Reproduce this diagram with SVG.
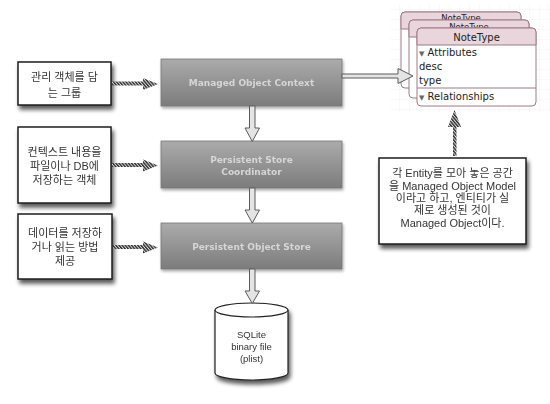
<svg xmlns="http://www.w3.org/2000/svg" width="550" height="404" viewBox="0 0 550 404">
<defs>
<style>
.note{fill:#ffffff;stroke:#1e1e1e;stroke-width:1.5}
.gbox{fill:url(#gg);stroke:#777;stroke-width:0.8}
.gt{font-family:"DejaVu Sans",sans-serif;font-weight:bold;font-size:9px;fill:#d6d6d6;text-anchor:middle}
.kt{font-family:"Liberation Sans","Noto Sans CJK KR",sans-serif;font-size:11px;fill:#333;text-anchor:middle}
.hollow{fill:#e4e4e4;stroke:#5a5a5a;stroke-width:1}
.hatch{fill:url(#hp);stroke:none}
.ent{fill:#ffffff;stroke:#a07886;stroke-width:1}
.enth{fill:#e9d6dd;stroke:#a07886;stroke-width:1}
.et{font-family:"DejaVu Sans",sans-serif;font-size:10px;fill:#222}
.bt{font-family:"DejaVu Sans",sans-serif;font-size:8.5px;fill:#222;text-anchor:middle}
.cyl{fill:#fff;stroke:#222;stroke-width:1.2}
.ct{font-family:"Liberation Sans",sans-serif;font-size:9.5px;fill:#333;text-anchor:middle}
</style>
<linearGradient id="gg" x1="0" y1="0" x2="0" y2="1">
<stop offset="0" stop-color="#ababab"/>
<stop offset="1" stop-color="#7c7c7c"/>
</linearGradient>
<pattern id="hp" width="2.4" height="2.4" patternUnits="userSpaceOnUse" patternTransform="rotate(-40)">
<rect width="2.4" height="2.4" fill="#e0e0e0"/>
<rect width="1.4" height="2.4" fill="#2a2a2a"/>
</pattern>
<pattern id="grid" width="10" height="10" patternUnits="userSpaceOnUse">
<path d="M10 0V10M0 10H10" fill="none" stroke="#ececec" stroke-width="0.6"/>
</pattern>
<filter id="sh" x="-20%" y="-20%" width="150%" height="160%">
<feGaussianBlur in="SourceAlpha" stdDeviation="2"/>
<feOffset dx="2" dy="4" result="b"/>
<feComponentTransfer><feFuncA type="linear" slope="0.65"/></feComponentTransfer>
<feMerge><feMergeNode/><feMergeNode in="SourceGraphic"/></feMerge>
</filter>
<filter id="sh2" x="-10%" y="-20%" width="130%" height="160%">
<feGaussianBlur in="SourceAlpha" stdDeviation="1.5"/>
<feOffset dx="1" dy="2" result="b"/>
<feComponentTransfer><feFuncA type="linear" slope="0.35"/></feComponentTransfer>
<feMerge><feMergeNode/><feMergeNode in="SourceGraphic"/></feMerge>
</filter>
</defs>
<rect width="550" height="404" fill="#ffffff"/>

<rect x="390" y="4" width="160" height="108" fill="url(#grid)"/>

<g id="note1" filter="url(#sh)">
<rect class="note" x="18" y="62" width="93" height="43"/>
<text class="kt" x="64.5" y="81">관리 객체를 담</text>
<text class="kt" x="64.5" y="97">는 그룹</text>
</g>
<g id="note2" filter="url(#sh)">
<rect class="note" x="18" y="127" width="93" height="76"/>
<text class="kt" x="64.5" y="156">컨텍스트 내용을</text>
<text class="kt" x="64.5" y="169.5">파일이나 DB에</text>
<text class="kt" x="64.5" y="184">저장하는 객체</text>
</g>
<g id="note3" filter="url(#sh)">
<rect class="note" x="18" y="214" width="94" height="65"/>
<text class="kt" x="65" y="237">데이터를 저장하</text>
<text class="kt" x="65" y="251">거나 읽는 방법</text>
<text class="kt" x="65" y="264.5">제공</text>
</g>

<g id="moc" filter="url(#sh2)">
<rect class="gbox" x="161" y="59" width="181" height="47"/>
<text class="gt" x="251.5" y="86">Managed Object Context</text>
</g>
<g id="psc" filter="url(#sh2)">
<rect class="gbox" x="161" y="141" width="181" height="47"/>
<text class="gt" x="251.5" y="163">Persistent Store</text>
<text class="gt" x="251.5" y="174.5">Coordinator</text>
</g>
<g id="pos" filter="url(#sh2)">
<rect class="gbox" x="161" y="223" width="181" height="46"/>
<text class="gt" x="251.5" y="250">Persistent Object Store</text>
</g>

<g id="sqlite" filter="url(#sh)">
<path class="cyl" d="M215 310 V373 A36.5 7 0 0 0 288 373 V310"/>
<ellipse class="cyl" cx="251.5" cy="310" rx="36.5" ry="7"/>
<text class="ct" x="251.5" y="338">SQLite</text>
<text class="ct" x="251.5" y="350">binary file</text>
<text class="ct" x="251.5" y="362">(plist)</text>
</g>

<g id="entity">
<rect class="ent" x="401" y="12" width="120" height="76" rx="4"/>
<path class="enth" d="M401 29 V16 A4 4 0 0 1 405 12 H517 A4 4 0 0 1 521 16 V29 Z"/>
<text class="bt" x="461" y="20.5">NoteType</text>
<rect class="ent" x="409" y="20" width="120" height="78" rx="4"/>
<path class="enth" d="M409 37 V24 A4 4 0 0 1 413 20 H525 A4 4 0 0 1 529 24 V37 Z"/>
<text class="bt" x="469" y="29.5">NoteType</text>
<rect class="ent" x="417" y="28" width="119" height="78" rx="4"/>
<path class="enth" d="M417 45 V32 A4 4 0 0 1 421 28 H532 A4 4 0 0 1 536 32 V45 Z"/>
<text class="et" x="476.5" y="40.5" text-anchor="middle">NoteType</text>
<text class="et" x="419" y="55.5"><tspan font-size="7" fill="#666">▼</tspan> Attributes</text>
<text class="et" x="419" y="70">desc</text>
<text class="et" x="419" y="84">type</text>
<line x1="417" y1="88" x2="536" y2="88" stroke="#a07886" stroke-width="1"/>
<text class="et" x="419" y="100"><tspan font-size="7" fill="#666">▼</tspan> Relationships</text>
</g>

<g id="callout" filter="url(#sh)">
<rect class="note" x="379" y="158" width="147" height="86"/>
<text class="kt" x="452.5" y="177">각 Entity를 모아 놓은 공간</text>
<text class="kt" x="452.5" y="189.5">을 Managed Object Model</text>
<text class="kt" x="452.5" y="202">이라고 하고, 엔티티가 실</text>
<text class="kt" x="452.5" y="214">제로 생성된 것이</text>
<text class="kt" x="452.5" y="226.5">Managed Object이다.</text>
</g>

<g id="connectors">
<path class="hollow" d="M249.5 106 V128 H245 L252.3 141.5 L259.5 128 H255 V106 Z"/>
<path class="hollow" d="M249.5 188 V210 H245 L252.3 223 L259.5 210 H255 V188 Z"/>
<path class="hollow" d="M249.5 269 V291 H245 L252.3 303.5 L259.5 291 H255 V269 Z"/>
<path class="hollow" d="M342 74 H398 V68.5 L413 76 L398 83.5 V78 H342 Z"/>
<path class="hatch" d="M112 81.5 H143 V78 L158 84 L143 90 V85.5 H112 Z"/>
<path class="hatch" d="M112 163 H143 V159.5 L158 165.5 L143 171.5 V167 H112 Z"/>
<path class="hatch" d="M113 245 H143 V241.5 L158 247.5 L143 253.5 V249 H113 Z"/>
<path class="hatch" d="M453 156 V127 H448 L454.5 110 L461 127 H456.5 V156 Z"/>
</g>
</svg>
